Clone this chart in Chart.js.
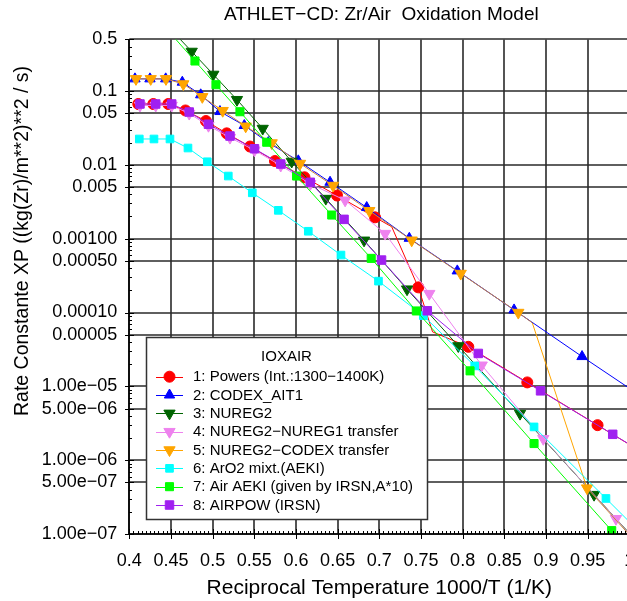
<!DOCTYPE html>
<html>
<head>
<meta charset="utf-8">
<script src="https://cdn.jsdelivr.net/npm/chart.js@4.4.1/dist/chart.umd.min.js"></script>
<style>
html,body{margin:0;padding:0;overflow:hidden;background:#fff;}
#wrap{position:absolute;left:0;top:0;width:660px;height:601px;background:#fff;}
</style>
</head>
<body>
<div id="wrap"><canvas id="c" width="660" height="601"></canvas></div>
<script>
// ---------------- data ----------------
const chartTitle = 'ATHLET\u2212CD: Zr/Air  Oxidation Model';
const xTitle = 'Reciprocal Temperature 1000/T (1/K)';
const yTitle = 'Rate Constante XP ((kg(Zr)/m**2)**2 / s)';
const legendTitle = 'IOXAIR';

const yTickValues = [1e-7, 5e-7, 1e-6, 5e-6, 1e-5, 5e-5, 1e-4, 5e-4, 1e-3, 5e-3, 1e-2, 5e-2, 0.1, 0.5];
const yTickLabels = ['1.00e\u221207','5.00e\u221207','1.00e\u221206','5.00e\u221206','1.00e\u221205',
  '0.00005','0.00010','0.00050','0.00100','0.005','0.01','0.05','0.1','0.5'];
const xTickValues = [0.4, 0.45, 0.5, 0.55, 0.6, 0.65, 0.7, 0.75, 0.8, 0.85, 0.9, 0.95, 1.0];

const seriesNames = [
  '1: Powers (Int.:1300\u22121400K)',
  '2: CODEX_AIT1',
  '3: NUREG2',
  '4: NUREG2\u2212NUREG1 transfer',
  '5: NUREG2\u2212CODEX transfer',
  '6: ArO2 mixt.(AEKI)',
  '7: Air AEKI (given by IRSN,A*10)',
  '8: AIRPOW (IRSN)'
];

const powersX = [0.4108, 0.4288, 0.4468, 0.4674, 0.4920, 0.5169, 0.5448, 0.5748, 0.6102, 0.6493, 0.6949, 0.7149, 0.7468, 0.7639, 0.8068, 0.8776, 0.9619, 1.04];
const powersY = [0.0667, 0.0667, 0.0667, 0.0545, 0.0392, 0.0267, 0.0177, 0.01126, 0.00678, 0.00384, 0.001945, 0.001449, 2.19e-4, 5.47e-5, 3.43e-5, 1.13e-5, 2.98e-6, 8.7e-7];
const powersUnmarked = [11, 13];

const codexX = [0.4068, 0.4248, 0.4437, 0.4636, 0.4857, 0.5088, 0.538, 0.5668, 0.6028, 0.6409, 0.6849, 0.736, 0.7936, 0.8617, 0.9433, 1.04];
const codexY = [0.146, 0.146, 0.146, 0.1316, 0.0888, 0.0527, 0.0341, 0.02005, 0.01133, 0.00581, 0.00264, 1.012e-3, 3.66e-4, 1.084e-4, 2.53e-5, 4.69e-6];

const nureg2X = [0.4503, 0.4749, 0.5008, 0.5292, 0.5601, 0.5949, 0.6358, 0.6817, 0.7333, 0.7948, 0.8689, 0.9577, 1.04];
const nureg2Y = [0.675, 0.343, 0.1675, 0.0762, 0.031, 0.0111, 0.00349, 9.5e-4, 2.07e-4, 3.52e-5, 4.27e-6, 3.41e-7, 3.3e-8];

const nureg1TrX = [0.4128, 0.4317, 0.4509, 0.4719, 0.4950, 0.5208, 0.5502, 0.5817, 0.6172, 0.659, 0.707, 0.760, 0.8229, 0.8968, 0.984, 1.04];
const nureg1TrY = [0.0636, 0.0636, 0.0636, 0.0495, 0.0339, 0.0234, 0.01576, 0.00979, 0.00553, 0.00331, 1.17e-3, 1.80e-4, 1.93e-5, 1.95e-6, 1.61e-7, 3.25e-8];

const codexTrX = [0.408, 0.4257, 0.444, 0.4648, 0.4876, 0.5121, 0.5397, 0.5709, 0.6049, 0.6445, 0.688, 0.7389, 0.7977, 0.8668, 0.8836, 0.9493, 1.04];
const codexTrY = [0.146, 0.146, 0.146, 0.1244, 0.0834, 0.0541, 0.0333, 0.01974, 0.01041, 0.00524, 0.00239, 9.51e-4, 3.37e-4, 9.98e-5, 7.24e-5, 4.18e-7, 3.1e-8];
const codexTrUnmarked = [14];

const aro2X = [0.412, 0.4296, 0.4488, 0.4704, 0.4936, 0.5188, 0.5476, 0.5788, 0.6148, 0.654, 0.699, 0.7528, 0.8145, 0.8857, 0.972, 1.04];
const aro2Y = [0.0224, 0.0224, 0.0224, 0.0169, 0.01101, 0.00705, 0.00418, 0.00242, 0.00126, 6.0e-4, 2.66e-4, 9.07e-5, 1.89e-5, 2.82e-6, 3.03e-7, 5.2e-8];

const airAekiX = [0.45, 0.4788, 0.504, 0.5328, 0.5649, 0.6007, 0.6429, 0.6903, 0.7444, 0.8089, 0.8857, 0.9789, 1.04];
const airAekiY = [0.594, 0.255, 0.1217, 0.0524, 0.02024, 0.00705, 0.00209, 5.41e-4, 1.05e-4, 1.62e-5, 1.68e-6, 1.11e-7, 1.9e-8];

const airpowX = [0.4128, 0.4317, 0.4509, 0.4719, 0.4950, 0.5208, 0.5502, 0.5817, 0.6172, 0.6577, 0.7027, 0.7576, 0.8188, 0.8935, 0.9801, 1.04];
const airpowY = [0.0667, 0.0667, 0.0667, 0.0519, 0.0355, 0.02456, 0.01652, 0.01026, 0.0058, 0.001826, 5.13e-4, 1.055e-4, 2.79e-5, 8.69e-6, 2.24e-6, 8.8e-7];

// ---------------- styles ----------------
const FONT = "'Liberation Sans', Arial, Helvetica, sans-serif";
const GRID_COLOR = '#2a2a2a';
const styles = [
  {color:'#ff0000', pointStyle:'circle',   rotation:0,   radius:5.5},
  {color:'#0000ff', pointStyle:'triangle', rotation:0,   radius:6},
  {color:'#006400', pointStyle:'triangle', rotation:180, radius:6.5},
  {color:'#ee82ee', pointStyle:'triangle', rotation:180, radius:6.5},
  {color:'#ffa500', pointStyle:'triangle', rotation:180, radius:6.5},
  {color:'#00ffff', pointStyle:'rect',     rotation:0,   radius:5.4},
  {color:'#00ff00', pointStyle:'rect',     rotation:0,   radius:5.7},
  {color:'#a020f0', pointStyle:'rect',     rotation:0,   radius:6}
];
const seriesData = [
  [powersX, powersY, powersUnmarked],
  [codexX, codexY, []],
  [nureg2X, nureg2Y, []],
  [nureg1TrX, nureg1TrY, []],
  [codexTrX, codexTrY, codexTrUnmarked],
  [aro2X, aro2Y, []],
  [airAekiX, airAekiY, []],
  [airpowX, airpowY, []]
];

const datasets = seriesData.map(([xs, ys, unmarked], i) => {
  const s = styles[i];
  return {
    label: seriesNames[i],
    data: xs.map((x, k) => ({x, y: ys[k]})),
    showLine: true,
    borderColor: s.color,
    backgroundColor: s.color,
    borderWidth: 1,
    pointStyle: s.pointStyle,
    pointRotation: s.rotation,
    pointBackgroundColor: s.color,
    pointBorderColor: s.color,
    pointBorderWidth: 1,
    pointRadius: ctx => unmarked.includes(ctx.dataIndex) ? 0 : s.radius,
    pointHoverRadius: ctx => unmarked.includes(ctx.dataIndex) ? 0 : s.radius,
    tension: 0,
    clip: 0,
    order: 8 - i
  };
});
// blended colours where lines overlap
datasets[4].segment = {borderColor: c => c.p0DataIndex === 14 ? '#ffa500' : '#c8863e'};
datasets[3].segment = {borderColor: c => c.p0DataIndex >= 13 ? '#c08cc0' : '#ee82ee'};

// ---------------- plugin: grid, ticks, legend, titles ----------------
function strokeSeg(ctx, x0, y0, x1, y1, color, w) {
  ctx.beginPath();
  ctx.strokeStyle = color;
  ctx.lineWidth = w;
  ctx.moveTo(x0, y0);
  ctx.lineTo(x1, y1);
  ctx.stroke();
}

const decor = {
  id: 'decor',
  beforeDatasetsDraw(chart) {
    const {ctx, chartArea: ca, scales: {x, y}} = chart;
    ctx.save();
    xTickValues.forEach(v => {
      const px = Math.round(x.getPixelForValue(v));
      strokeSeg(ctx, px, ca.top, px, ca.bottom, GRID_COLOR, 1.6);
    });
    yTickValues.forEach(v => {
      const py = Math.round(y.getPixelForValue(v));
      strokeSeg(ctx, ca.left, py, ca.right, py, GRID_COLOR, 1.6);
    });
    ctx.restore();
  },
  afterDraw(chart) {
    const {ctx, chartArea: ca, scales: {x, y}} = chart;
    ctx.save();
    // axis lines and ticks
    const lx = Math.round(ca.left), by = Math.round(ca.bottom);
    strokeSeg(ctx, lx, ca.top, lx, by, '#000', 1.6);
    strokeSeg(ctx, lx, by, ca.right, by, '#000', 1.6);
    const n = Math.round((x.max - x.min) / 0.005);
    for (let i = 0; i <= n; i++) {
      const px = Math.round(x.getPixelForValue(x.min + i * 0.005)) + 0.5;
      const major = (i % 10 === 0);
      strokeSeg(ctx, px, by + (major ? 5 : 0), px, by - (major ? 5 : 3), '#000', 1);
    }
    for (let k = -7; k <= 0; k++) {
      for (let m = 1; m <= 9; m++) {
        const v = m * Math.pow(10, k);
        if (v < y.min * 0.999 || v > y.max * 1.001) continue;
        const py = Math.round(y.getPixelForValue(v)) + 0.5;
        const major = (m === 1 || m === 5);
        strokeSeg(ctx, lx - (major ? 4 : 0), py, lx + (major ? 5 : 3), py, '#000', 1);
      }
    }

    // legend box
    const L = {x: 146, y: 337, w: 281, h: 182, titleY: 357, row0: 376.7, rowH: 18.33, l0: 156, l1: 183, mx: 169.5, tx: 193};
    ctx.fillStyle = '#fff';
    ctx.fillRect(L.x, L.y, L.w, L.h);
    ctx.strokeStyle = '#333';
    ctx.lineWidth = 1.5;
    ctx.strokeRect(L.x + 0.5, L.y + 0.5, L.w, L.h);
    ctx.fillStyle = '#000';
    ctx.font = '15px ' + FONT;
    ctx.textBaseline = 'middle';
    ctx.textAlign = 'center';
    ctx.fillText(legendTitle, L.x + L.w / 2, L.titleY);
    ctx.textAlign = 'left';
    seriesNames.forEach((name, i) => {
      const s = styles[i];
      const ry = L.row0 + i * L.rowH;
      strokeSeg(ctx, L.l0, Math.round(ry) + 0.5, L.l1, Math.round(ry) + 0.5, s.color, 1);
      ctx.fillStyle = s.color;
      ctx.strokeStyle = s.color;
      ctx.lineWidth = 1;
      Chart.helpers.drawPoint(ctx, {pointStyle: s.pointStyle, rotation: s.rotation, radius: s.radius, borderWidth: 1}, L.mx, ry);
      ctx.fillStyle = '#000';
      ctx.fillText(name, L.tx, ry + 0.5);
    });

    // chart title
    ctx.fillStyle = '#000';
    ctx.font = '19px ' + FONT;
    ctx.textAlign = 'center';
    ctx.textBaseline = 'middle';
    ctx.fillText(chartTitle, (ca.left + ca.right) / 2 + 2, 15);

    // y axis title
    ctx.translate(23, 241);
    ctx.rotate(-Math.PI / 2);
    ctx.font = '19.5px ' + FONT;
    ctx.fillText(yTitle, 0, 0);
    ctx.restore();
  }
};

// ---------------- chart ----------------
const CANVAS_W = 660, CANVAS_H = 601;
const PLOT_LEFT = 129.3, PLOT_RIGHT = 629.3, PLOT_TOP = 39.4, PLOT_BOTTOM = 534;

new Chart(document.getElementById('c'), {
  type: 'scatter',
  data: {datasets},
  plugins: [decor],
  options: {
    responsive: false,
    animation: false,
    devicePixelRatio: 1,
    events: [],
    layout: {padding: {top: PLOT_TOP, right: CANVAS_W - PLOT_RIGHT, left: 0, bottom: 0}},
    plugins: {legend: {display: false}, tooltip: {enabled: false}, title: {display: false}},
    scales: {
      x: {
        type: 'linear', min: 0.4, max: 1.0,
        afterFit(s) { s.height = CANVAS_H - PLOT_BOTTOM; },
        ticks: {
          stepSize: 0.05, autoSkip: false, maxRotation: 0, color: '#000', padding: 11,
          font: {family: FONT, size: 18},
          callback: v => String(+(+v).toFixed(2))
        },
        grid: {display: false, drawTicks: true, tickLength: 5},
        border: {display: false},
        title: {display: true, text: xTitle, color: '#000', font: {family: FONT, size: 21}, padding: {top: 0, bottom: 0}}
      },
      y: {
        type: 'logarithmic', min: 1e-7, max: 0.5,
        afterBuildTicks(s) { s.ticks = yTickValues.map(v => ({value: v, major: false})); },
        afterFit(s) { s.width = PLOT_LEFT; },
        ticks: {
          autoSkip: false, color: '#000', padding: 8,
          font: {family: FONT, size: 18},
          callback: (v, i) => yTickLabels[i]
        },
        grid: {display: false, drawTicks: true, tickLength: 4},
        border: {display: false},
        title: {display: false}
      }
    }
  }
});
</script>
</body>
</html>
